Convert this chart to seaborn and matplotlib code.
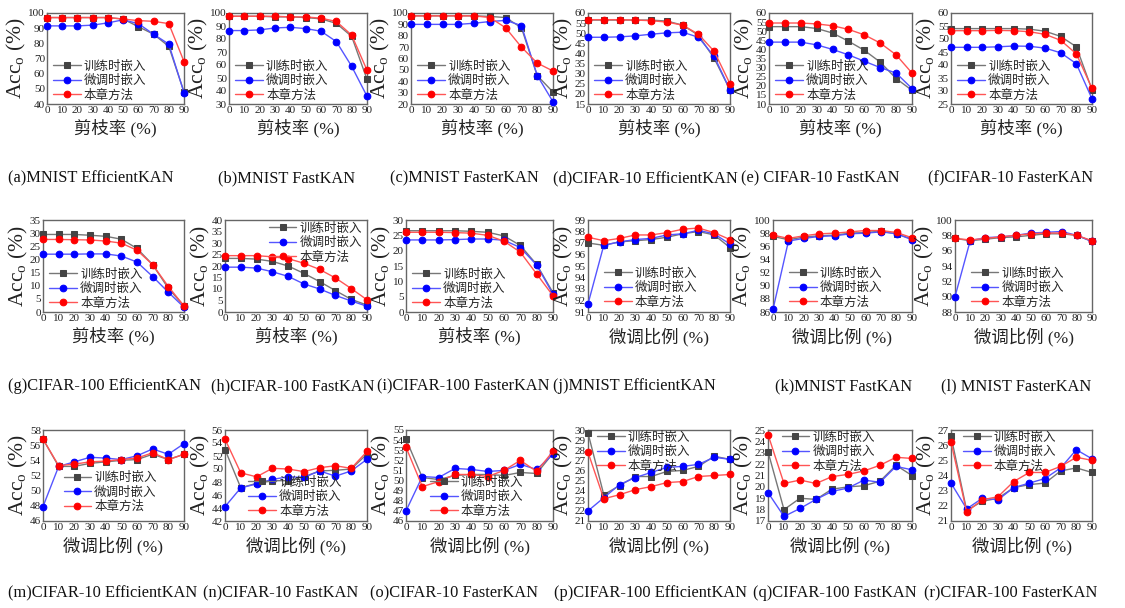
import matplotlib
matplotlib.use("Agg")
import matplotlib.pyplot as plt
import seaborn as sns
import pandas as pd

# ---------------- data ----------------
x_vals = [0, 10, 20, 30, 40, 50, 60, 70, 80, 90]
series_names = ["训练时嵌入", "微调时嵌入", "本章方法"]
prune_xlabel = "剪枝率 (%)"
ft_xlabel = "微调比例 (%)"
ylabel_text = r"Acc$_\mathregular{o}$ (%)"

captions = [
    "(a)MNIST EfficientKAN", "(b)MNIST FastKAN", "(c)MNIST FasterKAN",
    "(d)CIFAR-10 EfficientKAN", "(e) CIFAR-10 FastKAN", "(f)CIFAR-10 FasterKAN",
    "(g)CIFAR-100 EfficientKAN", "(h)CIFAR-100 FastKAN", "(i)CIFAR-100 FasterKAN",
    "(j)MNIST EfficientKAN", "(k)MNIST FastKAN", "(l) MNIST FasterKAN",
    "(m)CIFAR-10 EfficientKAN", "(n)CIFAR-10 FastKAN", "(o)CIFAR-10 FasterKAN",
    "(p)CIFAR-100 EfficientKAN", "(q)CIFAR-100 FastKAN", "(r)CIFAR-100 FasterKAN",
]

a_train = [97, 97, 97, 97, 97, 96, 91, 86, 78, 48]
a_ft    = [91.5, 91.5, 91.5, 92, 93.5, 95.5, 93, 86, 79.5, 47.5]
a_ours  = [97, 97, 97, 97, 97, 96, 95, 94.5, 93, 68]

b_train = [97.5, 97.5, 97.5, 97, 97, 96.5, 95.5, 92, 82, 49]
b_ft    = [86.5, 86.5, 87, 88.5, 89, 88, 86, 78, 59, 36]
b_ours  = [97.5, 97.5, 97.5, 97.5, 97, 97, 96, 93.5, 83, 56]

c_train = [97.5, 97.5, 97.5, 97.5, 97.5, 97, 96, 87, 45, 30.5]
c_ft    = [90, 90, 90, 90, 91, 92.5, 93.5, 89, 45, 22]
c_ours  = [97.5, 97.5, 97.5, 97.5, 97.5, 96, 87, 70, 56, 49]

d_train = [56.5, 56.5, 56.5, 56.5, 56.5, 56, 54, 49, 37.5, 22]
d_ft    = [48, 48, 48.2, 48.7, 49.5, 50.2, 50.5, 48, 38.5, 22]
d_ours  = [56.7, 56.7, 56.7, 56.5, 56.2, 55.5, 54, 49.5, 41, 25]

e_train = [52.5, 52.5, 52.5, 51.5, 49, 44.5, 39.5, 33, 24, 17.5]
e_ft    = [44, 44, 44, 42.5, 40, 37, 33.5, 30, 27, 18.5]
e_ours  = [54.5, 54.5, 54.5, 54, 53, 51, 48, 43.5, 37, 27]

f_train = [54, 54, 54, 54, 54, 53.8, 53, 51, 47, 30.5]
f_ft    = [46.8, 46.8, 46.8, 47, 47.3, 47.2, 46.5, 44.7, 40.5, 27]
f_ours  = [53.2, 53.2, 53.2, 53.3, 53.2, 52.8, 51.8, 49.5, 44.3, 31]

g_train = [29.5, 29.5, 29.5, 29.2, 28.8, 27.7, 24.2, 18, 9, 2.3]
g_ft    = [22, 22, 22, 22.1, 22.1, 21.3, 19, 13.5, 7.5, 1.8]
g_ours  = [27.6, 27.6, 27.5, 27.4, 27, 26.2, 23.5, 18, 9.7, 2.3]

h_train = [23.3, 23.3, 23, 22, 20, 16.8, 13.2, 9.3, 5.5, 3]
h_ft    = [19.5, 19.5, 19.1, 17.5, 15.5, 12.2, 10, 7.2, 4.8, 2.5]
h_ours  = [24.5, 24.5, 24.5, 24, 23.2, 21.2, 18.5, 14.8, 10.2, 5.3]

i_train = [26.5, 26.5, 26.5, 26.5, 26.3, 26, 24.8, 21.7, 15.5, 6.3]
i_ft    = [23.5, 23.5, 23.5, 23.6, 23.8, 23.8, 23.4, 21, 15.3, 5.8]
i_ours  = [26, 26, 26, 25.9, 25.7, 25, 23.1, 19.5, 12.4, 5.3]

j_train = [97.0, 96.8, 97.1, 97.2, 97.3, 97.5, 97.8, 98.0, 97.7, 96.6]
j_ft    = [91.7, 96.8, 97.1, 97.3, 97.4, 97.7, 97.8, 98.1, 97.8, 96.9]
j_ours  = [97.5, 97.2, 97.4, 97.7, 97.7, 97.9, 98.2, 98.3, 97.9, 97.3]

k_train = [97.5, 97.0, 97.4, 97.6, 97.7, 98.0, 98.1, 98.3, 97.9, 97.1]
k_ft    = [86.4, 96.8, 97.2, 97.5, 97.6, 97.9, 98.0, 98.2, 97.9, 97.0]
k_ours  = [97.7, 97.2, 97.6, 97.9, 98.0, 98.2, 98.4, 98.4, 98.1, 97.3]

l_train = [97.6, 97.3, 97.5, 97.7, 97.8, 98.0, 98.2, 98.2, 98.0, 97.2]
l_ft    = [90.0, 97.3, 97.7, 97.8, 98.0, 98.3, 98.4, 98.5, 98.0, 97.2]
l_ours  = [97.6, 97.4, 97.6, 97.8, 98.0, 98.2, 98.3, 98.3, 98.0, 97.3]

m_train = [56.8, 53.2, 53.2, 53.6, 53.8, 54.0, 54.1, 54.8, 54.1, 54.8]
m_ft    = [47.9, 53.2, 53.8, 54.4, 54.3, 54.1, 54.6, 55.5, 54.8, 56.2]
m_ours  = [56.8, 53.3, 53.5, 53.8, 53.9, 54.1, 54.3, 55.0, 54.1, 54.8]

n_train = [53.0, 47.1, 47.8, 48.2, 48.2, 48.8, 49.7, 49.8, 50.0, 52.3]
n_ft    = [44.2, 47.1, 47.7, 48.4, 48.8, 48.7, 49.7, 48.9, 49.7, 51.5]
n_ours  = [54.6, 49.4, 48.8, 50.1, 50.0, 49.6, 50.2, 50.5, 50.1, 52.7]

o_train = [54.1, 50.3, 50.1, 50.5, 50.6, 50.6, 50.5, 50.8, 50.7, 52.7]
o_ft    = [47.0, 50.4, 50.3, 51.2, 51.1, 50.9, 51.0, 51.6, 51.1, 52.6]
o_ours  = [53.3, 49.4, 49.9, 50.6, 50.6, 50.4, 51.0, 52.0, 50.9, 52.9]

p_train = [29.7, 23.6, 24.5, 25.4, 25.4, 25.9, 26.0, 26.4, 27.4, 27.1]
p_ft    = [22.0, 23.3, 24.6, 25.3, 25.8, 26.3, 26.4, 26.6, 27.3, 27.1]
p_ours  = [27.8, 23.2, 23.6, 24.1, 24.4, 24.8, 24.9, 25.4, 25.5, 25.6]

q_train = [23.1, 18.0, 19.0, 18.9, 19.8, 20.0, 20.1, 20.5, 21.9, 21.0]
q_ft    = [19.5, 17.4, 18.1, 18.9, 19.6, 19.9, 20.6, 20.4, 21.8, 21.5]
q_ours  = [24.6, 20.3, 20.6, 20.3, 20.9, 21.1, 21.4, 21.9, 22.6, 22.5]

r_train = [26.6, 21.7, 22.3, 22.5, 23.2, 23.4, 23.5, 24.3, 24.5, 24.2]
r_ft    = [23.5, 21.8, 22.5, 22.4, 23.2, 23.5, 23.8, 24.5, 25.7, 25.1]
r_ours  = [26.2, 21.6, 22.4, 22.6, 23.6, 24.2, 24.2, 24.6, 25.2, 25.0]

panel_series = [
    (a_train, a_ft, a_ours), (b_train, b_ft, b_ours), (c_train, c_ft, c_ours),
    (d_train, d_ft, d_ours), (e_train, e_ft, e_ours), (f_train, f_ft, f_ours),
    (g_train, g_ft, g_ours), (h_train, h_ft, h_ours), (i_train, i_ft, i_ours),
    (j_train, j_ft, j_ours), (k_train, k_ft, k_ours), (l_train, l_ft, l_ours),
    (m_train, m_ft, m_ours), (n_train, n_ft, n_ours), (o_train, o_ft, o_ours),
    (p_train, p_ft, p_ours), (q_train, q_ft, q_ours), (r_train, r_ft, r_ours),
]

# ---------------- styling / layout ----------------
sns.set_style("white")
FONT = ["Liberation Serif", "Noto Sans CJK SC", "DejaVu Sans"]
plt.rcParams["font.family"] = FONT
plt.rcParams["mathtext.fontset"] = "custom"
plt.rcParams["mathtext.rm"] = "Liberation Serif"
plt.rcParams["mathtext.it"] = "Liberation Serif:italic"
plt.rcParams["axes.unicode_minus"] = False

W, H = 1125, 608
fig = plt.figure(figsize=(W / 100, H / 100), dpi=100)

row_px = [(13, 104), (220, 312), (430, 521)]
col_px = [
    [(47, 184), (229, 367), (411, 553), (588, 730), (769, 912), (951, 1092)],
    [(43, 184), (225, 367), (406, 553), (588, 730), (773, 912), (955, 1092)],
    [(43, 184), (225, 367), (406, 553), (588, 730), (768, 912), (951, 1092)],
]
ylims = [
    (40, 100, 10), (30, 100, 10), (20, 100, 10), (15, 60, 5), (10, 60, 5), (25, 60, 5),
    (0, 35, 5), (0, 40, 5), (0, 30, 5), (91, 99, 1), (86, 100, 2), (88, 100, 2),
    (46, 58, 2), (42, 56, 2), (46, 55, 1), (21, 30, 1), (17, 25, 1), (21, 27, 1),
]
# legend: (loc, anchor)
legends = [
    ("lower left", (0.01, -0.03)), ("lower left", (0.01, -0.03)), ("lower left", (0.01, -0.03)),
    ("lower left", (0.01, -0.03)), ("lower left", (0.01, -0.03)), ("lower left", (0.01, -0.03)),
    ("lower left", (0.01, -0.03)), ("upper right", (1.0, 1.03)), ("lower left", (0.01, -0.03)),
    ("lower left", (0.08, -0.02)), ("lower left", (0.08, -0.02)), ("lower left", (0.08, -0.02)),
    ("lower left", (0.11, 0.03)), ("lower left", (0.13, -0.02)), ("lower left", (0.13, -0.02)),
    ("upper left", (0.03, 1.04)), ("upper left", (0.06, 1.04)), ("upper left", (0.05, 1.04)),
]
caption_x = [
    8, 218, 390, 553, 741, 928,
    8, 211, 377, 553, 775, 941,
    8, 203, 370, 554, 753, 924,
]
caption_y = [178, 386, 593]

line_colors = ["#777777", "#5555ff", "#ff5555"]
marker_colors = ["#444444", "#0000ff", "#ff0000"]
markers = ["s", "o", "o"]
spine_col = "#666666"

for idx, series in enumerate(panel_series):
    r, c = divmod(idx, 6)
    top, bot = row_px[r]
    left, right = col_px[r][c]
    ax = fig.add_axes([left / W, 1 - bot / H, (right - left) / W, (bot - top) / H])
    for k, vals in enumerate(series):
        df = pd.DataFrame({"x": x_vals, "y": vals})
        sns.lineplot(
            data=df, x="x", y="y", ax=ax, color=line_colors[k], lw=1.0,
            marker=markers[k], markersize=4.2 if k == 0 else 4.8,
            markerfacecolor=marker_colors[k], markeredgecolor=marker_colors[k],
            label=series_names[k], clip_on=False, zorder=3 + k,
        )
    lo, hi, st = ylims[idx]
    ax.set_xlim(0, 90)
    ax.set_ylim(lo, hi)
    ax.set_xticks(x_vals)
    yt = list(range(lo, hi + 1, st))
    ax.set_yticks(yt)
    ax.tick_params(axis="both", direction="in", length=2.5, width=0.8,
                   labelsize=8, pad=1.5, colors="#222222")
    for s in ax.spines.values():
        s.set_color(spine_col)
        s.set_linewidth(1.0)
    ax.set_xlabel(prune_xlabel if idx < 9 else ft_xlabel, fontsize=12.5,
                  labelpad=3, color="#222222")
    ax.set_ylabel(ylabel_text, fontsize=15.5, labelpad=0, color="#222222")
    loc, anchor = legends[idx]
    ax.legend(loc=loc, bbox_to_anchor=anchor, frameon=False, fontsize=9,
              handlelength=2.2, handletextpad=0.25, labelspacing=0.2,
              borderaxespad=0.2, borderpad=0.2)
    fig.text(caption_x[idx] / W, 1 - caption_y[r] / H, captions[idx],
             fontsize=11.8, ha="left", va="center", color="#111111")

fig.savefig("out.png", dpi=100)
